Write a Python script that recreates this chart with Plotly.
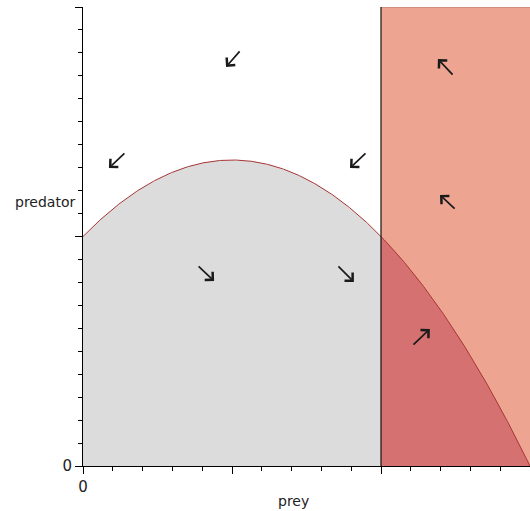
import numpy as np
import plotly.graph_objects as go

# Prey nullcline: predator = 1 + (4/3) * prey * (1 - prey)
curve_a = 1.0
curve_b = 4.0 / 3.0
threshold_prey = 1.0
x_max = 1.5
y_max = 2.0

# Direction-field arrows (tail -> head) in data units
arrow_tail_x = [0.530, 0.144, 0.953, 0.383, 0.852, 1.245, 1.252, 1.104]
arrow_tail_y = [1.813, 1.368, 1.368, 0.876, 0.876, 1.699, 1.115, 0.523]
arrow_head_x = [0.480, 0.087, 0.896, 0.440, 0.909, 1.191, 1.198, 1.164]
arrow_head_y = [1.739, 1.298, 1.298, 0.806, 0.802, 1.773, 1.181, 0.597]

GRAY = "#dcdcdc"
SALMON = "#eda592"
DARK = "#d67172"
CURVE = "#a83434"
FONT = "DejaVu Sans"


def nullcline(x):
    return curve_a + curve_b * x * (1 - x)


fig = go.Figure()

# Left region under the curve
xl = np.linspace(0, threshold_prey, 200)
fig.add_trace(go.Scatter(
    x=np.concatenate([[0], xl, [threshold_prey]]),
    y=np.concatenate([[0], nullcline(xl), [0]]),
    fill="toself", fillcolor=GRAY, line=dict(width=0), mode="lines",
    hoverinfo="skip", showlegend=False))

# Right region: whole band beyond the threshold
fig.add_trace(go.Scatter(
    x=[threshold_prey, x_max, x_max, threshold_prey, threshold_prey],
    y=[0, 0, y_max, y_max, 0],
    fill="toself", fillcolor=SALMON, line=dict(width=0), mode="lines",
    hoverinfo="skip", showlegend=False))
fig.add_trace(go.Scatter(
    x=[threshold_prey, x_max], y=[y_max, y_max], mode="lines",
    line=dict(color="#b87a6c", width=1), hoverinfo="skip", showlegend=False))

# Right region under the curve
xr = np.linspace(threshold_prey, x_max, 200)
fig.add_trace(go.Scatter(
    x=np.concatenate([[threshold_prey], xr, [x_max, threshold_prey]]),
    y=np.concatenate([[0], nullcline(xr), [0, 0]]),
    fill="toself", fillcolor=DARK, line=dict(width=0), mode="lines",
    hoverinfo="skip", showlegend=False))

# Nullcline line
xc = np.linspace(0, x_max, 400)
fig.add_trace(go.Scatter(
    x=xc, y=nullcline(xc), mode="lines",
    line=dict(color=CURVE, width=1), hoverinfo="skip", showlegend=False))

# Vertical threshold line
fig.add_trace(go.Scatter(
    x=[threshold_prey, threshold_prey], y=[0, y_max], mode="lines",
    line=dict(color="#111111", width=1.2), hoverinfo="skip", showlegend=False))

annotations = []
for tx, ty, hx, hy in zip(arrow_tail_x, arrow_tail_y, arrow_head_x, arrow_head_y):
    annotations.append(dict(
        x=hx, y=hy, ax=tx, ay=ty, xref="x", yref="y", axref="x", ayref="y",
        text="", showarrow=True, arrowhead=4, arrowsize=1.3, arrowwidth=1.7,
        arrowcolor="#1a1a1a"))

annotations += [
    dict(text="predator", x=0, y=1.15, xref="paper", yref="y", showarrow=False,
         xanchor="right", yanchor="middle", xshift=-6,
         font=dict(family=FONT, size=14, color="#222")),
    dict(text="prey", x=0.705, y=0, xref="x", yref="paper", showarrow=False,
         yanchor="top", yshift=-25,
         font=dict(family=FONT, size=14, color="#222")),
]

fig.update_layout(
    width=530, height=511,
    margin=dict(l=83, r=0, t=7, b=45),
    paper_bgcolor="white", plot_bgcolor="white",
    annotations=annotations,
    font=dict(family=FONT, size=15, color="#222"),
    xaxis=dict(range=[0, x_max], showgrid=False, zeroline=False,
               showline=True, linecolor="black", linewidth=1,
               tickmode="array", tickvals=[0, 0.5, 1.0], ticktext=["0", "", ""],
               ticks="outside", ticklen=7, tickcolor="black",
               tickfont=dict(family=FONT, size=15, color="#222"),
               minor=dict(dtick=0.1, tick0=0, ticks="outside", ticklen=4,
                          tickcolor="black", showgrid=False)),
    yaxis=dict(range=[0, y_max], showgrid=False, zeroline=False,
               showline=True, linecolor="black", linewidth=1,
               tickmode="array", tickvals=[0, 1.0, 2.0], ticktext=["0", "", ""],
               ticks="outside", ticklen=7, tickcolor="black",
               tickfont=dict(family=FONT, size=15, color="#222"),
               minor=dict(dtick=0.1, tick0=0, ticks="outside", ticklen=4,
                          tickcolor="black", showgrid=False)),
)

fig.write_html("out.html")
